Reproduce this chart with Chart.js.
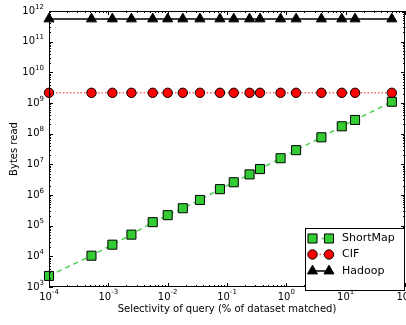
<!DOCTYPE html>
<html>
<head>
<meta charset="utf-8">
<script src="https://cdn.jsdelivr.net/npm/chart.js@4/dist/chart.umd.min.js"></script>
<style>
  html, body { margin: 0; padding: 0; background: #fff; }
  canvas { display: block; }
</style>
</head>
<body>
<canvas id="myChart" width="406" height="325"></canvas>
<script>
// selectivity (% of dataset matched) for each query
const selectivity = [1e-4, 5.2e-4, 1.17e-3, 2.45e-3, 5.6e-3, 1e-2, 1.8e-2, 3.5e-2, 7.6e-2,
  0.13, 0.24, 0.36, 0.8, 1.46, 3.9, 8.6, 14.4, 60];
// bytes read per system
const shortMapBytes = [2.3e3, 1.05e4, 2.4e4, 5.1e4, 1.3e5, 2.2e5, 3.7e5, 6.9e5, 1.55e6,
  2.6e6, 4.7e6, 7.0e6, 1.58e7, 2.9e7, 7.6e7, 1.74e8, 2.8e8, 1.1e9];
const cifBytes = [2.15e9, 2.15e9, 2.15e9, 2.15e9, 2.15e9, 2.15e9, 2.15e9, 2.15e9, 2.15e9,
  2.15e9, 2.15e9, 2.15e9, 2.15e9, 2.15e9, 2.15e9, 2.15e9, 2.15e9, 2.15e9];
const hadoopBytes = [5.5e11, 5.5e11, 5.5e11, 5.5e11, 5.5e11, 5.5e11, 5.5e11, 5.5e11, 5.5e11,
  5.5e11, 5.5e11, 5.5e11, 5.5e11, 5.5e11, 5.5e11, 5.5e11, 5.5e11, 5.5e11];

// decade exponents used for tick labels
const xTickExps = [-4, -3, -2, -1, 0, 1, 2];
const yTickExps = [3, 4, 5, 6, 7, 8, 9, 10, 11, 12];

const xTitle = "Selectivity of query (% of dataset matched)";
const yTitle = "Bytes read";
const font = '"DejaVu Sans", sans-serif';

const points = (ys) => selectivity.map((x, i) => ({ x: x, y: ys[i] }));

// draws 10^n with a raised exponent
function drawPow(ctx, exp, x, y, align, raise) {
  const base = "10", sup = String(exp);
  ctx.font = "10px " + font;
  const bw = ctx.measureText(base).width;
  ctx.font = "7px " + font;
  const sw = ctx.measureText(sup).width;
  const left = align === "right" ? x - bw - sw : x - (bw + sw) / 2;
  ctx.textAlign = "left";
  ctx.textBaseline = "middle";
  ctx.font = "10px " + font;
  ctx.fillText(base, left, y);
  ctx.font = "7px " + font;
  ctx.fillText(sup, left + bw, y - raise);
}

// frame, inward ticks on all four sides, labels and titles
const axesPlugin = {
  id: "axes",
  afterDraw(chart) {
    const ctx = chart.ctx, a = chart.chartArea;
    const xs = chart.scales.x, ys = chart.scales.y;
    ctx.save();
    ctx.strokeStyle = "#000";
    ctx.fillStyle = "#000";
    ctx.lineWidth = 1;
    ctx.strokeRect(a.left + 0.5, a.top + 0.5, a.right - a.left - 1, a.bottom - a.top - 1);

    ctx.beginPath();
    xTickExps.forEach((e, i) => {
      const px = Math.round(xs.getPixelForValue(Math.pow(10, e))) + 0.5;
      ctx.moveTo(px, a.bottom); ctx.lineTo(px, a.bottom - 4);
      ctx.moveTo(px, a.top); ctx.lineTo(px, a.top + 4);
      if (i < xTickExps.length - 1) {
        for (let k = 2; k < 10; k++) {
          const mx = Math.round(xs.getPixelForValue(k * Math.pow(10, e))) + 0.5;
          ctx.moveTo(mx, a.bottom); ctx.lineTo(mx, a.bottom - 2);
          ctx.moveTo(mx, a.top); ctx.lineTo(mx, a.top + 2);
        }
      }
    });
    yTickExps.forEach((e, i) => {
      const py = Math.round(ys.getPixelForValue(Math.pow(10, e))) + 0.5;
      ctx.moveTo(a.left, py); ctx.lineTo(a.left + 4, py);
      ctx.moveTo(a.right, py); ctx.lineTo(a.right - 4, py);
      if (i < yTickExps.length - 1) {
        for (let k = 2; k < 10; k++) {
          const my = Math.round(ys.getPixelForValue(k * Math.pow(10, e))) + 0.5;
          ctx.moveTo(a.left, my); ctx.lineTo(a.left + 2, my);
          ctx.moveTo(a.right, my); ctx.lineTo(a.right - 2, my);
        }
      }
    });
    ctx.stroke();

    xTickExps.forEach(e => {
      drawPow(ctx, e, xs.getPixelForValue(Math.pow(10, e)), a.bottom + 10, "center", 5);
    });
    yTickExps.forEach(e => {
      drawPow(ctx, e, a.left - 5, ys.getPixelForValue(Math.pow(10, e)), "right", 4);
    });

    ctx.font = "10px " + font;
    ctx.textAlign = "center";
    ctx.textBaseline = "middle";
    ctx.fillText(xTitle, (a.left + a.right) / 2, 309);
    ctx.translate(14, (a.top + a.bottom) / 2);
    ctx.rotate(-Math.PI / 2);
    ctx.fillText(yTitle, 0, 0);
    ctx.restore();
  }
};

// boxed legend in the lower right, two markers joined by the line style
const legendPlugin = {
  id: "boxLegend",
  afterDraw(chart) {
    const ctx = chart.ctx;
    const box = { x: 305.5, y: 228.5, w: 99, h: 62 };
    ctx.save();
    ctx.fillStyle = "#fff";
    ctx.fillRect(box.x, box.y, box.w, box.h);
    ctx.strokeStyle = "#000";
    ctx.lineWidth = 1;
    ctx.strokeRect(box.x, box.y, box.w, box.h);
    const rowY = [238.5, 254.5, 271];
    chart.data.datasets.forEach((ds, i) => {
      const y = rowY[i];
      ctx.save();
      ctx.strokeStyle = ds.borderColor;
      ctx.lineWidth = ds.borderWidth;
      ctx.setLineDash(ds.borderDash || []);
      ctx.beginPath();
      ctx.moveTo(312.5, y); ctx.lineTo(329, y);
      ctx.stroke();
      ctx.restore();
      [312.5, 329].forEach(x => {
        ctx.fillStyle = ds.pointBackgroundColor;
        ctx.strokeStyle = ds.pointBorderColor;
        Chart.helpers.drawPoint(ctx, {
          pointStyle: ds.pointStyle, radius: ds.pointRadius, rotation: 0,
          borderWidth: ds.pointBorderWidth
        }, x, y);
      });
      ctx.fillStyle = "#000";
      ctx.font = "11px " + font;
      ctx.textAlign = "left";
      ctx.textBaseline = "middle";
      ctx.fillText(ds.label, 342, y);
    });
    ctx.restore();
  }
};

const ctx = document.getElementById("myChart").getContext("2d");
const myChart = new Chart(ctx, {
  type: "line",
  data: {
    datasets: [
      {
        label: "ShortMap",
        data: points(shortMapBytes),
        borderColor: "rgba(50, 205, 50, 0.85)",
        borderWidth: 1.5,
        borderDash: [5, 4],
        pointStyle: "rect",
        pointRadius: 6.4,
        pointBackgroundColor: "#33cc33",
        pointBorderColor: "#000",
        pointBorderWidth: 1,
        order: 3,
        clip: false,
      },
      {
        label: "CIF",
        data: points(cifBytes),
        borderColor: "rgba(255, 60, 60, 0.8)",
        borderWidth: 1.5,
        borderDash: [1.5, 2],
        pointStyle: "circle",
        pointRadius: 4.7,
        pointBackgroundColor: "#ff0000",
        pointBorderColor: "#000",
        pointBorderWidth: 1,
        order: 2,
        clip: false,
      },
      {
        label: "Hadoop",
        data: points(hadoopBytes),
        borderColor: "#000",
        borderWidth: 1.5,
        pointStyle: "triangle",
        pointRadius: 5.8,
        pointBackgroundColor: "#000",
        pointBorderColor: "#000",
        pointBorderWidth: 1,
        order: 1,
        clip: false,
      },
    ],
  },
  options: {
    responsive: false,
    animation: false,
    devicePixelRatio: 1,
    layout: { autoPadding: false, padding: { top: 11, right: 1, left: 0, bottom: 0 } },
    plugins: { legend: { display: false }, tooltip: { enabled: false } },
    scales: {
      x: {
        type: "logarithmic",
        min: 1e-4,
        max: 1e2,
        ticks: { display: false },
        grid: { display: false },
        border: { display: false },
        afterFit: (s) => { s.height = 38; },
      },
      y: {
        type: "logarithmic",
        min: 1e3,
        max: 1e12,
        ticks: { display: false },
        grid: { display: false },
        border: { display: false },
        afterFit: (s) => { s.width = 49; },
      },
    },
  },
  plugins: [axesPlugin, legendPlugin],
});
</script>
</body>
</html>
